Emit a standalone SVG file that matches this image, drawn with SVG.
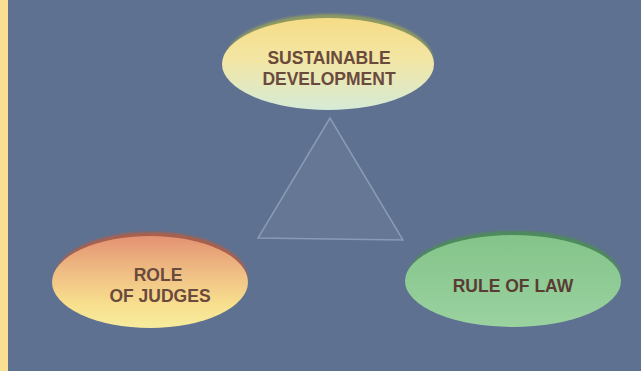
<svg xmlns="http://www.w3.org/2000/svg" width="641" height="371" viewBox="0 0 641 371">
<defs>
<linearGradient id="gTop" x1="0" y1="0" x2="0" y2="1">
<stop offset="0" stop-color="#f6dc86"/>
<stop offset="0.45" stop-color="#f3e6a4"/>
<stop offset="1" stop-color="#d5ebd6"/>
</linearGradient>
<linearGradient id="gLeft" x1="0" y1="0" x2="0" y2="1">
<stop offset="0" stop-color="#e49272"/>
<stop offset="0.4" stop-color="#efbe84"/>
<stop offset="0.75" stop-color="#f8e08e"/>
<stop offset="1" stop-color="#f6ec9e"/>
</linearGradient>
<linearGradient id="gRight" x1="0" y1="0" x2="0" y2="1">
<stop offset="0" stop-color="#84c48a"/>
<stop offset="1" stop-color="#9ad2a0"/>
</linearGradient>
<filter id="soft" x="-10%" y="-20%" width="120%" height="140%"><feGaussianBlur stdDeviation="1.2"/></filter>
</defs>
<style>
.lbl{font-family:"Liberation Sans",Arial,sans-serif;font-weight:bold;font-size:17.5px;text-anchor:middle;fill:#6a4a3c}
</style>
<rect x="0" y="0" width="641" height="371" fill="#5f7190"/>
<rect x="0" y="0" width="8" height="371" fill="#f8df92"/>
<g id="connectors">
<polygon points="330,118 258,238 403,240" fill="#7585a3" fill-opacity="0.35" stroke="#a4b4cc" stroke-width="1.5" stroke-opacity="0.6"/>
</g>
<g id="node-sustainable">
<ellipse cx="329" cy="60" rx="104" ry="46" fill="#8e9a62" filter="url(#soft)"/>
<ellipse cx="328" cy="64" rx="106" ry="46" fill="url(#gTop)"/>
<text class="lbl" x="329" y="63.5">SUSTAINABLE</text>
<text class="lbl" x="329" y="85">DEVELOPMENT</text>
</g>
<g id="node-judges">
<ellipse cx="151" cy="277" rx="96" ry="45" fill="#a8604e" filter="url(#soft)"/>
<ellipse cx="150" cy="282" rx="98" ry="46" fill="url(#gLeft)"/>
<text class="lbl" x="158" y="281">ROLE</text>
<text class="lbl" x="160" y="302">OF JUDGES</text>
</g>
<g id="node-law">
<ellipse cx="514" cy="276" rx="106" ry="45" fill="#4e8a5c" filter="url(#soft)"/>
<ellipse cx="513" cy="281" rx="108" ry="46" fill="url(#gRight)"/>
<text class="lbl" x="513" y="292" style="fill:#5a3c34">RULE OF LAW</text>
</g>
</svg>
